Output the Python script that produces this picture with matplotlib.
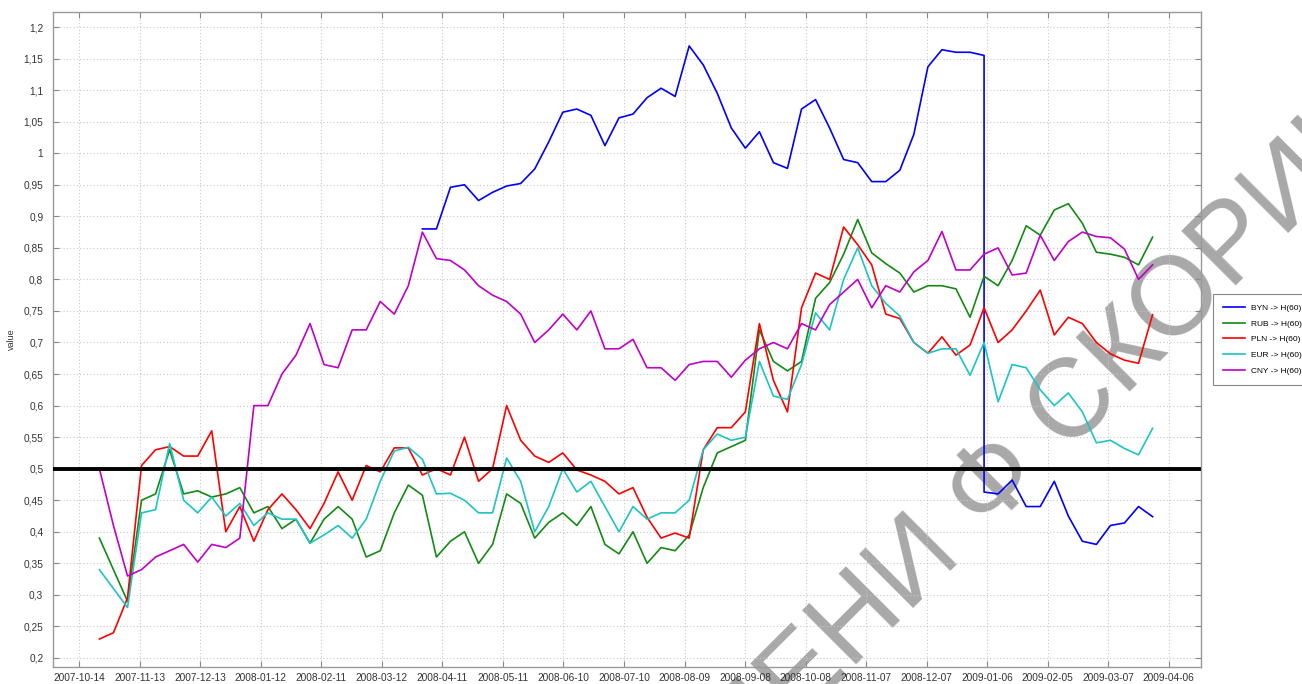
import numpy as np
import pandas as pd
import matplotlib
matplotlib.use('Agg')
import matplotlib.pyplot as plt
import matplotlib.dates as mdates
from matplotlib.ticker import FuncFormatter

plt.rcParams['font.family'] = ['Liberation Sans', 'DejaVu Sans']

# weekly samples
dates = pd.date_range('2007-10-24', '2009-03-29', periods=76)

byn_pre = [0.88, 0.88, 0.946, 0.95, 0.925, 0.938, 0.948, 0.952, 0.975, 1.018,
           1.065, 1.07, 1.06, 1.012, 1.056, 1.062, 1.088, 1.103, 1.09, 1.17,
           1.14, 1.095, 1.04, 1.008, 1.034, 0.985, 0.976, 1.07, 1.085, 1.04,
           0.99, 0.985, 0.955, 0.955, 0.973, 1.03, 1.137, 1.164, 1.16, 1.16,
           1.155]
byn_post = [0.463, 0.46, 0.482, 0.44, 0.44, 0.48, 0.425, 0.385, 0.38, 0.41,
            0.414, 0.44, 0.424]
byn_start = 23
byn_drop = 63

rub = [0.39, 0.34, 0.29, 0.45, 0.46, 0.53, 0.46, 0.465, 0.455, 0.46,
       0.47, 0.43, 0.44, 0.405, 0.42, 0.382, 0.42, 0.44, 0.42, 0.36,
       0.37, 0.43, 0.474, 0.458, 0.36, 0.385, 0.40, 0.35, 0.38, 0.46,
       0.445, 0.39, 0.415, 0.43, 0.41, 0.44, 0.38, 0.365, 0.40, 0.35,
       0.375, 0.37, 0.395, 0.47, 0.525, 0.535, 0.545, 0.72, 0.67, 0.655,
       0.67, 0.77, 0.795, 0.84, 0.895, 0.842, 0.825, 0.81, 0.78, 0.79,
       0.79, 0.785, 0.74, 0.805, 0.79, 0.83, 0.885, 0.87, 0.91, 0.92,
       0.889, 0.843, 0.84, 0.835, 0.823, 0.867]

pln = [0.23, 0.24, 0.295, 0.505, 0.53, 0.535, 0.52, 0.52, 0.56, 0.40,
       0.44, 0.385, 0.435, 0.46, 0.435, 0.405, 0.445, 0.495, 0.45, 0.505,
       0.495, 0.533, 0.533, 0.49, 0.50, 0.49, 0.55, 0.48, 0.50, 0.60,
       0.545, 0.52, 0.51, 0.525, 0.498, 0.49, 0.48, 0.46, 0.47, 0.423,
       0.39, 0.398, 0.39, 0.53, 0.565, 0.565, 0.59, 0.73, 0.64, 0.59,
       0.755, 0.81, 0.80, 0.883, 0.855, 0.823, 0.745, 0.738, 0.70, 0.683,
       0.709, 0.68, 0.696, 0.755, 0.70, 0.72, 0.75, 0.783, 0.712, 0.74,
       0.73, 0.70, 0.682, 0.672, 0.667, 0.744]

eur = [0.34, 0.31, 0.28, 0.43, 0.435, 0.54, 0.45, 0.43, 0.455, 0.425,
       0.445, 0.41, 0.43, 0.42, 0.42, 0.382, 0.395, 0.41, 0.39, 0.42,
       0.48, 0.528, 0.534, 0.515, 0.46, 0.461, 0.45, 0.43, 0.43, 0.517,
       0.48, 0.40, 0.44, 0.50, 0.463, 0.48, 0.44, 0.40, 0.44, 0.42,
       0.43, 0.43, 0.45, 0.53, 0.555, 0.545, 0.55, 0.67, 0.615, 0.61,
       0.665, 0.747, 0.72, 0.80, 0.85, 0.79, 0.762, 0.742, 0.70, 0.683,
       0.69, 0.69, 0.648, 0.70, 0.606, 0.665, 0.66, 0.625, 0.60, 0.62,
       0.59, 0.541, 0.545, 0.532, 0.522, 0.564]

cny = [0.50, 0.41, 0.33, 0.34, 0.36, 0.37, 0.38, 0.352, 0.38, 0.375,
       0.39, 0.60, 0.60, 0.65, 0.68, 0.73, 0.665, 0.66, 0.72, 0.72,
       0.765, 0.745, 0.79, 0.875, 0.833, 0.83, 0.815, 0.79, 0.775, 0.765,
       0.745, 0.70, 0.72, 0.745, 0.72, 0.75, 0.69, 0.69, 0.705, 0.66,
       0.66, 0.64, 0.665, 0.67, 0.67, 0.645, 0.672, 0.69, 0.70, 0.69,
       0.73, 0.72, 0.76, 0.78, 0.80, 0.755, 0.79, 0.78, 0.812, 0.83,
       0.876, 0.815, 0.815, 0.84, 0.85, 0.807, 0.81, 0.87, 0.83, 0.86,
       0.875, 0.868, 0.866, 0.848, 0.80, 0.823]

labels = ['BYN -> H(60)', 'RUB -> H(60)', 'PLN -> H(60)', 'EUR -> H(60)', 'CNY -> H(60)']
colors = ['#0000ff', '#138a13', '#ff0000', '#1cc4c4', '#c000c8']

fig = plt.figure(figsize=(13.02, 6.84), dpi=100)
ax = fig.add_axes([53/1302, 1 - 667/684, (1201-53)/1302, (667-12)/684])

x_byn = list(dates[byn_start:byn_drop + 1]) + list(dates[byn_drop:])
ax.plot(x_byn, byn_pre + byn_post, color=colors[0], lw=1.2, label=labels[0])
ax.plot(dates, rub, color=colors[1], lw=1.2, label=labels[1])
ax.plot(dates, pln, color=colors[2], lw=1.2, label=labels[2])
ax.plot(dates, eur, color=colors[3], lw=1.2, label=labels[3])
ax.plot(dates, cny, color=colors[4], lw=1.2, label=labels[4])

ax.axhline(0.5, color='black', lw=2.8, zorder=3)

ax.set_xlim(pd.Timestamp('2007-10-01'), pd.Timestamp('2009-04-22'))
ax.set_ylim(0.1857, 1.2238)

xt = pd.date_range('2007-10-14', '2009-04-06', freq='30D')
ax.set_xticks(xt)
ax.xaxis.set_major_formatter(mdates.DateFormatter('%Y-%m-%d'))
ax.set_yticks(np.arange(0.2, 1.2001, 0.05))
ax.yaxis.set_major_formatter(FuncFormatter(lambda v, p: ('%g' % round(v, 2)).replace('.', ',')))

ax.grid(True, linestyle=(0, (1, 2)), color='#c8c8c8', lw=0.8)
ax.tick_params(direction='in', length=4, width=0.8, colors='#888888',
               labelcolor='#333333', labelsize=7.3, top=True, right=True)
ax.tick_params(axis='y', pad=7)
ax.tick_params(axis='x', pad=4)
for s in ax.spines.values():
    s.set_color('#999999')
    s.set_linewidth(1.0)

ax.set_ylabel('value', fontsize=6.5, color='#333333', labelpad=5)

leg = ax.legend(loc='upper left', bbox_to_anchor=(1213/1302, 1 - 294/684),
                bbox_transform=fig.transFigure, fontsize=6, fancybox=False,
                edgecolor='#888888', handlelength=2.6, handletextpad=0.8,
                borderpad=1.2, labelspacing=0.95, borderaxespad=0,
                framealpha=1)
leg.get_frame().set_linewidth(0.8)

# watermark
ax.text(1050/1302, 1 - 430/684, 'ИМЕНИ Ф СКОРИНЫ', transform=fig.transFigure,
        rotation=45, fontsize=80, color='#a8a8a8', ha='center', va='center',
        clip_on=False, zorder=1.5, rotation_mode='anchor')

fig.savefig('out.png', dpi=100)
